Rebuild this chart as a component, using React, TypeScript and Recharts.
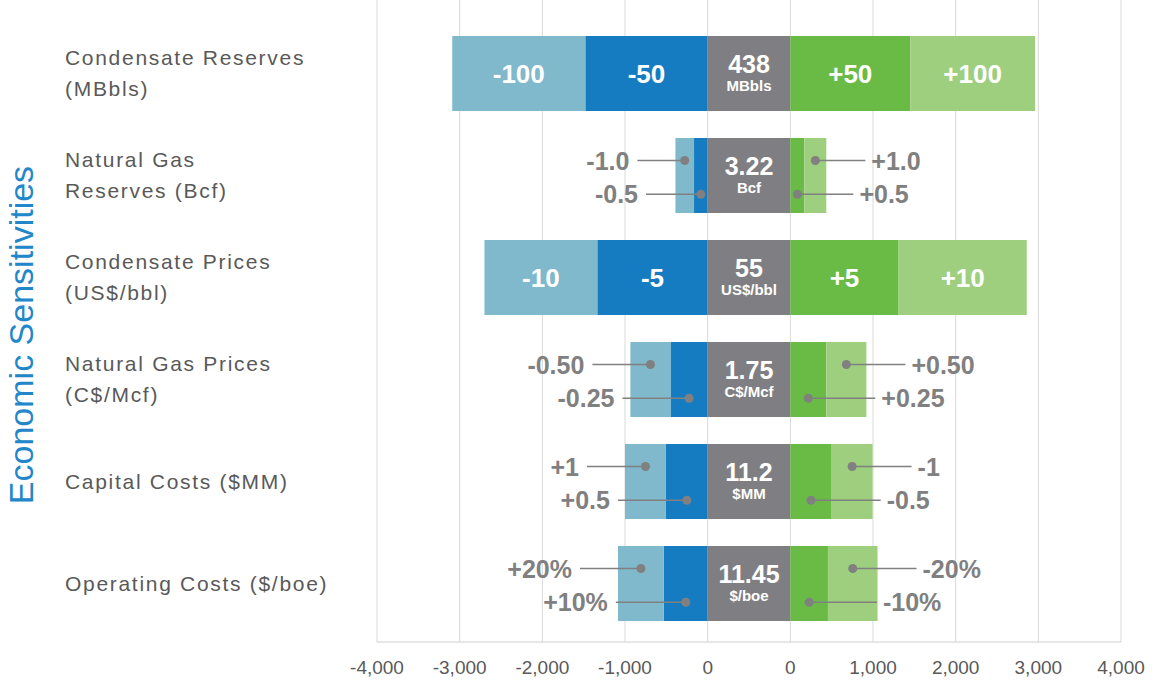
import { Bar, BarChart, CartesianGrid, LabelList, XAxis, YAxis } from 'recharts';

const categories = [
  'Condensate Reserves\n(MBbls)',
  'Natural Gas\nReserves (Bcf)',
  'Condensate Prices\n(US$/bbl)',
  'Natural Gas Prices\n(C$/Mcf)',
  'Capital Costs ($MM)',
  'Operating Costs ($/boe)',
];

const baseValues = ['438', '3.22', '55', '1.75', '11.2', '11.45'];
const baseUnits = ['MBbls', 'Bcf', 'US$/bbl', 'C$/Mcf', '$MM', '$/boe'];

// NPV change at the outer / inner sensitivity on each side
const lowOuter = [3090, 390, 2700, 935, 1000, 1085];
const lowInner = [1480, 165, 1335, 450, 505, 530];
const highInner = [1450, 170, 1310, 435, 500, 455];
const highOuter = [2960, 435, 2860, 920, 995, 1055];

const lowOuterLabels = ['-100', '-1.0', '-10', '-0.50', '+1', '+20%'];
const lowInnerLabels = ['-50', '-0.5', '-5', '-0.25', '+0.5', '+10%'];
const highInnerLabels = ['+50', '+0.5', '+5', '+0.25', '-0.5', '-10%'];
const highOuterLabels = ['+100', '+1.0', '+10', '+0.50', '-1', '-20%'];

// rows whose segments are too narrow get call-out labels
const calloutRows = [false, true, false, true, true, true];

// the grey base band sits between the two zero ticks
const BASE_SPAN = 1000;
const xTicks = [-4000, -3000, -2000, -1000, 0, 1000, 2000, 3000, 4000, 5000];
const xTickLabels = ['-4,000', '-3,000', '-2,000', '-1,000', '0', '0', '1,000', '2,000', '3,000', '4,000'];

const COLORS = {
  lowOuter: '#80b8cc',
  lowInner: '#167cc1',
  base: '#7f7f83',
  highInner: '#6aba46',
  highOuter: '#9ecf7f',
};

const FONT = '"Liberation Sans", Arial, sans-serif';
const CALLOUT = '#808080';

const data = categories.map((name, i) => ({
  name,
  lowInner: -lowInner[i],
  lowOuter: -(lowOuter[i] - lowInner[i]),
  base: BASE_SPAN,
  highInner: highInner[i],
  highOuter: highOuter[i] - highInner[i],
}));

const rectOf = (props: any) => {
  const vb = props.viewBox ?? props;
  const x0 = Math.min(vb.x, vb.x + vb.width);
  const x1 = Math.max(vb.x, vb.x + vb.width);
  const y0 = Math.min(vb.y, vb.y + vb.height);
  const h = Math.abs(vb.height);
  return { x0, x1, y0, h };
};

const segmentLabel =
  (texts: string[], side: 'left' | 'right', outer: boolean) =>
  (props: any) => {
    const i = categories.indexOf(props.value);
    if (i < 0) return null;
    const { x0, x1, y0, h } = rectOf(props);
    const cx = (x0 + x1) / 2;
    if (!calloutRows[i]) {
      return (
        <text x={cx} y={y0 + h / 2} textAnchor="middle" dominantBaseline="central" fill="#fff"
          style={{ fontFamily: FONT, fontWeight: 700, fontSize: 26 }}>
          {texts[i]}
        </text>
      );
    }
    const cy = y0 + h * (outer ? 0.3 : 0.75);
    let lineStart: number;
    let textX: number;
    if (side === 'left') {
      textX = x0 - (outer ? 46 : 56);
      lineStart = textX + 8;
    } else {
      textX = x1 + (outer ? 45 : 55);
      lineStart = textX - 6;
    }
    return (
      <g>
        <line x1={lineStart} y1={cy} x2={cx} y2={cy} stroke={CALLOUT} strokeWidth={1.6} />
        <circle cx={cx} cy={cy} r={4.5} fill={CALLOUT} />
        <text x={textX} y={cy} textAnchor={side === 'left' ? 'end' : 'start'} dominantBaseline="central"
          fill={CALLOUT} style={{ fontFamily: FONT, fontWeight: 700, fontSize: 25 }}>
          {texts[i]}
        </text>
      </g>
    );
  };

const baseLabel = (props: any) => {
  const i = categories.indexOf(props.value);
  if (i < 0) return null;
  const { x0, x1, y0, h } = rectOf(props);
  const cx = (x0 + x1) / 2;
  const cy = y0 + h / 2;
  return (
    <g style={{ fontFamily: FONT, fontWeight: 700 }} fill="#fff">
      <text x={cx} y={cy - 10} textAnchor="middle" dominantBaseline="central" style={{ fontSize: 25 }}>
        {baseValues[i]}
      </text>
      <text x={cx} y={cy + 12} textAnchor="middle" dominantBaseline="central" style={{ fontSize: 15 }}>
        {baseUnits[i]}
      </text>
    </g>
  );
};

const CategoryTick = (props: any) => {
  const { y, payload } = props;
  const lines: string[] = String(payload.value).split('\n');
  const offsets = lines.length > 1 ? [-16, 15] : [0];
  return (
    <g>
      {lines.map((line, k) => (
        <text key={k} x={65} y={y + offsets[k]} dominantBaseline="central" fill="#595959"
          style={{ fontFamily: FONT, fontSize: 21, letterSpacing: 1.7 }}>
          {line}
        </text>
      ))}
    </g>
  );
};

const AxisTitle = () => (
  <text x={21} y={335} transform="rotate(-90, 21, 335)" textAnchor="middle" dominantBaseline="central"
    fill="#2287c9" style={{ fontFamily: FONT, fontSize: 34 }}>
    Economic Sensitivities
  </text>
);

export default function App() {
  return (
    <div style={{ position: 'absolute', left: 0, top: 0, width: 1152, height: 686, background: '#fff' }}>
      <BarChart width={1152} height={686} data={data} layout="vertical" stackOffset="sign"
        margin={{ top: 0, right: 31, bottom: 0, left: 0 }}>
        <CartesianGrid horizontal={false} stroke="#d9d9d9" />
        <XAxis type="number" domain={[-4000, 5000]} ticks={xTicks} interval={0} height={44}
          tickFormatter={(_v: number, idx: number) => xTickLabels[idx]}
          axisLine={{ stroke: '#d0d0d0' }} tickLine={false} tickMargin={13}
          tick={{ fill: '#595959', fontSize: 19, fontFamily: FONT }} />
        <YAxis type="category" dataKey="name" width={377} axisLine={false} tickLine={false}
          padding={{ top: 22, bottom: 8 }} tick={<CategoryTick />} label={{ content: AxisTitle }} />
        <Bar dataKey="lowInner" stackId="a" fill={COLORS.lowInner} barSize={75} isAnimationActive={false}>
          <LabelList dataKey="name" content={segmentLabel(lowInnerLabels, 'left', false)} />
        </Bar>
        <Bar dataKey="lowOuter" stackId="a" fill={COLORS.lowOuter} barSize={75} isAnimationActive={false}>
          <LabelList dataKey="name" content={segmentLabel(lowOuterLabels, 'left', true)} />
        </Bar>
        <Bar dataKey="base" stackId="a" fill={COLORS.base} barSize={75} isAnimationActive={false}>
          <LabelList dataKey="name" content={baseLabel} />
        </Bar>
        <Bar dataKey="highInner" stackId="a" fill={COLORS.highInner} barSize={75} isAnimationActive={false}>
          <LabelList dataKey="name" content={segmentLabel(highInnerLabels, 'right', false)} />
        </Bar>
        <Bar dataKey="highOuter" stackId="a" fill={COLORS.highOuter} barSize={75} isAnimationActive={false}>
          <LabelList dataKey="name" content={segmentLabel(highOuterLabels, 'right', true)} />
        </Bar>
      </BarChart>
    </div>
  );
}
